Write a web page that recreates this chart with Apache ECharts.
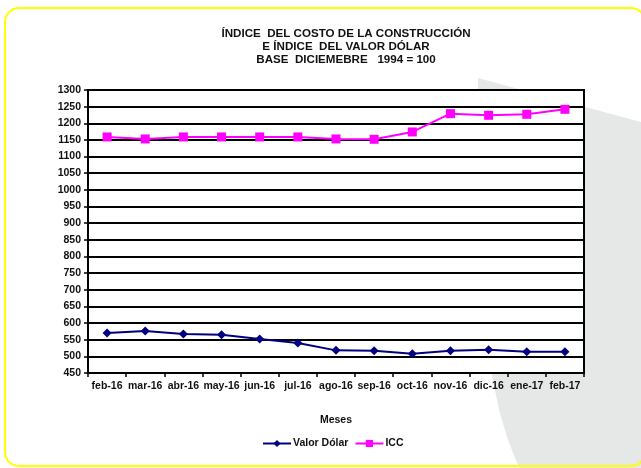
<!DOCTYPE html>
<html>
<head>
<meta charset="utf-8">
<script src="https://cdn.jsdelivr.net/npm/echarts@6/dist/echarts.min.js"></script>
<style>
html,body{margin:0;padding:0;background:#fff;}
#chart{width:641px;height:468px;}
</style>
</head>
<body>
<div id="chart"></div>
<script>
var categories = ['feb-16','mar-16','abr-16','may-16','jun-16','jul-16','ago-16','sep-16','oct-16','nov-16','dic-16','ene-17','feb-17'];
var valorDolar = [570, 576, 567, 565, 552, 540, 518, 517, 508, 517, 520, 514, 514];
var icc = [1159, 1153, 1159, 1159, 1159, 1159, 1153, 1152, 1174, 1229, 1224, 1227, 1242];
var yMin = 450, yMax = 1300, yStep = 50;
var titleLines = ['ÍNDICE  DEL COSTO DE LA CONSTRUCCIÓN', 'E ÍNDICE  DEL VALOR DÓLAR', 'BASE  DICIEMEBRE   1994 = 100'];

var chart = echarts.init(document.getElementById('chart'), null, {renderer:'canvas'});
var font = 'Liberation Sans, Arial, sans-serif';
chart.setOption({
  animation: false,
  backgroundColor: '#fff',
  graphic: [
    {type:'polygon', z:-10, silent:true,
     shape:{points:[[478,78],[641,122],[641,468],[519,468],[508,440],[499,410],[492,375],[487,330],[483,270],[480,200],[478,130]]},
     style:{fill:'#e6e7e7'}},
    {type:'rect', z:-5, silent:true, shape:{x:5, y:8, width:640, height:458, r:14}, style:{fill:'none', stroke:'#ffff00', lineWidth:2}}
  ],
  title: {
    text: titleLines.join('\n'),
    left: 341, top: 22, textAlign: 'center',
    textStyle: {fontFamily: font, fontSize: 11.6, fontWeight: 'bold', color: '#111', lineHeight: 13}
  },
  legend: {
    bottom: 14, left: 257,
    itemWidth: 28, itemHeight: 9, itemGap: 6,
    textStyle: {fontFamily: font, fontSize: 10.5, fontWeight: 'bold', color: '#111', padding: [0, 0, 0, -3]},
    data: ['Valor Dólar', 'ICC']
  },
  grid: {left: 88, top: 90, width: 496, height: 283, show: true, borderColor: '#000', borderWidth: 2, backgroundColor: '#fff'},
  xAxis: {
    type: 'category', data: categories, boundaryGap: true,
    name: 'Meses', nameLocation: 'middle', nameGap: 42,
    nameTextStyle: {fontFamily: font, fontSize: 10.5, fontWeight: 'bold', color: '#111'},
    axisLine: {lineStyle: {color: '#000', width: 2}},
    axisTick: {show: true, alignWithLabel: false, length: 4, lineStyle: {color:'#000', width: 1.5}},
    axisLabel: {fontFamily: font, fontSize: 10.5, fontWeight: 'bold', color: '#111', margin: 8, interval: 0},
    splitLine: {show: false}
  },
  yAxis: {
    type: 'value', min: yMin, max: yMax, interval: yStep,
    axisLine: {show: true, lineStyle: {color: '#000', width: 2}},
    axisTick: {show: true, length: 4, lineStyle: {color:'#000', width: 1.5}},
    axisLabel: {fontFamily: font, fontSize: 10.5, fontWeight: 'bold', color: '#111', margin: 7,
      formatter: function (v) { return String(v); }},
    splitLine: {show: true, lineStyle: {color: '#000', width: 1.8}}
  },
  series: [
    {name: 'Valor Dólar', type: 'line', data: valorDolar, symbol: 'diamond', symbolSize: 9,
     itemStyle: {color: '#000080'}, lineStyle: {color: '#000080', width: 2}},
    {name: 'ICC', type: 'line', data: icc, symbol: 'rect', symbolSize: 9,
     itemStyle: {color: '#ff00ff'}, lineStyle: {color: '#ff00ff', width: 2}}
  ]
});
</script>
</body>
</html>
